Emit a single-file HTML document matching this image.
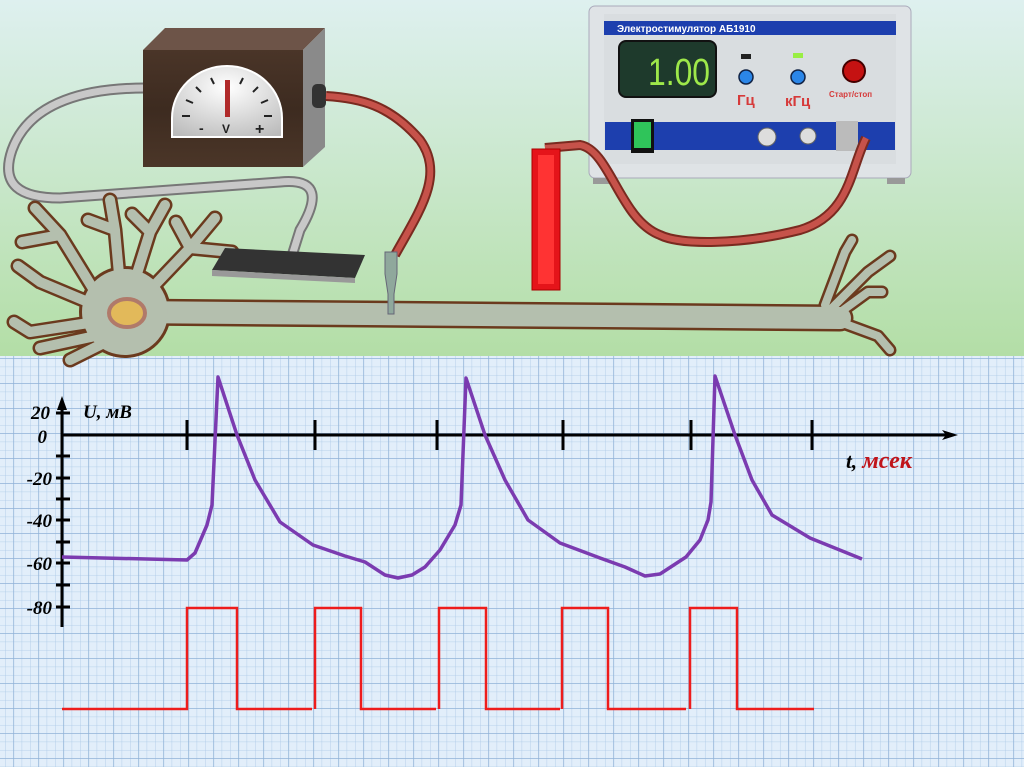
<!DOCTYPE html>
<html><head><meta charset="utf-8"><style>
html,body{margin:0;padding:0;width:1024px;height:767px;overflow:hidden}
svg{display:block}
.serif{font-family:"Liberation Serif",serif}
.sans{font-family:"Liberation Sans",sans-serif}
</style></head><body>
<svg width="1024" height="767" viewBox="0 0 1024 767" xmlns="http://www.w3.org/2000/svg">
<defs>
<linearGradient id="bg" x1="0" y1="0" x2="0" y2="1">
<stop offset="0" stop-color="#def0ef"/><stop offset="1" stop-color="#b3dea6"/>
</linearGradient>
<pattern id="minor" x="5" y="0" width="8.333" height="8.333" patternUnits="userSpaceOnUse">
<path d="M0 0H8.333M0 0V8.333" stroke="#a9c7e6" stroke-width="0.8" fill="none"/>
</pattern>
<pattern id="major" x="13.3" y="8" width="25" height="25" patternUnits="userSpaceOnUse">
<path d="M0 0H25M0 0V25" stroke="#8fb0d6" stroke-width="1.3" fill="none"/>
</pattern>
<linearGradient id="wood" x1="0" y1="0" x2="0" y2="1">
<stop offset="0" stop-color="#4a3528"/><stop offset="0.5" stop-color="#3d2b20"/><stop offset="1" stop-color="#4b3628"/>
</linearGradient>
<radialGradient id="dial" cx="0.5" cy="0.3" r="0.8"><stop offset="0" stop-color="#fff"/><stop offset="1" stop-color="#bbb"/></radialGradient>
</defs>
<rect width="1024" height="356" fill="url(#bg)"/>
<rect y="356" width="1024" height="411" fill="#e2eefa"/>
<rect y="356" width="1024" height="411" fill="url(#minor)"/>
<rect y="356" width="1024" height="411" fill="url(#major)"/>

<!-- grey cable -->
<path d="M145 88 C90 88 30 100 12 150 C0 185 20 198 60 198 L280 182 C320 178 318 200 300 230 L290 262" fill="none" stroke="#777" stroke-width="11"/>
<path d="M145 88 C90 88 30 100 12 150 C0 185 20 198 60 198 L280 182 C320 178 318 200 300 230 L290 262" fill="none" stroke="#c8c8c8" stroke-width="7"/>

<!-- neuron -->
<g fill="none" stroke-linecap="round" stroke-linejoin="round">
<g stroke="#6b3a1e">
<path d="M120 312 L840 318" stroke-width="27"/>
<path d="M100 300L60 235L35 208M60 235L22 242M95 305L40 282L18 266M95 322L30 332L14 322M100 335L40 348M110 340L70 360M120 285L115 230L110 200M115 230L88 220M135 280L150 232L165 205M150 232L132 214M150 290L190 248L215 218M190 248L232 252M190 248L176 222" stroke-width="15"/>
<path d="M825 315L868 272L890 256M835 316L868 292L882 292M840 322L878 336L890 350M825 305L845 252L852 240" stroke-width="13"/>
<circle cx="125" cy="312" r="46" fill="#6b3a1e" stroke="none"/>
</g>
<g stroke="#b4bfae">
<path d="M120 312 L840 318" stroke-width="22"/>
<path d="M100 300L60 235L35 208M60 235L22 242M95 305L40 282L18 266M95 322L30 332L14 322M100 335L40 348M110 340L70 360M120 285L115 230L110 200M115 230L88 220M135 280L150 232L165 205M150 232L132 214M150 290L190 248L215 218M190 248L232 252M190 248L176 222" stroke-width="10"/>
<path d="M825 315L868 272L890 256M835 316L868 292L882 292M840 322L878 336L890 350M825 305L845 252L852 240" stroke-width="8"/>
<circle cx="125" cy="312" r="43" fill="#b4bfae" stroke="none"/>
</g>
</g>
<ellipse cx="127" cy="313" rx="18" ry="14" fill="#e2b95a" stroke="#b07a6a" stroke-width="4"/>

<!-- plate -->
<path d="M225 248 L365 255 L355 278 L212 270 Z" fill="#333"/>
<path d="M212 270 L355 278 L355 283 L212 276 Z" fill="#999"/>

<!-- voltmeter -->
<path d="M143 50 L165 28 L325 28 L303 50 Z" fill="#6d5448"/>
<path d="M303 50 L325 28 L325 147 L303 167 Z" fill="#8a8a8a"/>
<rect x="143" y="50" width="160" height="117" fill="url(#wood)"/>
<path d="M172 137 L172 118 A55 52 0 0 1 282 118 L282 137 Z" fill="url(#dial)" stroke="#fff" stroke-width="2"/>
<g stroke="#222" stroke-width="2">
<path d="M182 116h8M264 116h8M186 100l7 3M268 100l-7 3M196 87l5 5M258 87l-5 5M211 78l3 6M243 78l-3 6"/>
</g>
<rect x="225" y="80" width="5" height="37" fill="#b02a2a"/>
<text class="sans" x="199" y="133" font-size="14" font-weight="bold" fill="#222">-</text>
<text class="sans" x="222" y="133" font-size="12" font-weight="bold" fill="#222">V</text>
<text class="sans" x="255" y="134" font-size="16" font-weight="bold" fill="#222">+</text>
<rect x="312" y="84" width="14" height="24" rx="5" fill="#333"/>
<!-- red cable 1 -->
<path d="M326 96 C360 98 390 105 420 140 C445 175 420 210 395 255" fill="none" stroke="#7a2a20" stroke-width="10"/>
<path d="M326 96 C360 98 390 105 420 140 C445 175 420 210 395 255" fill="none" stroke="#c6524a" stroke-width="6"/>
<path d="M385 252 h12 v22 l-3 20 v20 h-6 v-20 l-3 -20 Z" fill="#8fa89c" stroke="#667" stroke-width="1"/>

<!-- stimulator -->
<rect x="589" y="6" width="322" height="172" rx="6" fill="#dfe3e6" stroke="#aab" stroke-width="1"/>
<rect x="604" y="14" width="292" height="150" fill="#d9dde0"/>
<rect x="604" y="21" width="292" height="14" fill="#1d3fae"/>
<text class="sans" x="617" y="32" font-size="10" font-weight="bold" fill="#fff">Электростимулятор АБ1910</text>
<rect x="619" y="41" width="97" height="56" rx="7" fill="#1e3a2c" stroke="#111" stroke-width="2"/>
<text class="sans" x="648" y="85" font-size="38" fill="#9ee84a" textLength="62" lengthAdjust="spacingAndGlyphs">1.00</text>
<rect x="741" y="54" width="10" height="5" fill="#222"/>
<rect x="793" y="53" width="10" height="5" fill="#9e4"/>
<circle cx="746" cy="77" r="7" fill="#2b86e8" stroke="#124" stroke-width="1.5"/>
<circle cx="798" cy="77" r="7" fill="#2b86e8" stroke="#124" stroke-width="1.5"/>
<text class="sans" x="737" y="105" font-size="15" font-weight="bold" fill="#d63a3a">Гц</text>
<text class="sans" x="785" y="106" font-size="15" font-weight="bold" fill="#d63a3a">кГц</text>
<circle cx="854" cy="71" r="11" fill="#c51212" stroke="#400" stroke-width="2"/>
<text class="sans" x="829" y="97" font-size="8" font-weight="bold" fill="#d63a3a">Старт/стоп</text>
<rect x="605" y="122" width="290" height="28" fill="#1d3fae"/>
<rect x="631" y="119" width="23" height="34" fill="#111"/>
<rect x="634" y="122" width="17" height="26" fill="#2fc45a"/>
<circle cx="767" cy="137" r="9" fill="#ddd" stroke="#666"/>
<circle cx="808" cy="136" r="8" fill="#ddd" stroke="#666"/>
<rect x="836" y="121" width="22" height="30" fill="#bbb"/>
<rect x="593" y="178" width="18" height="6" fill="#999"/>
<rect x="887" y="178" width="18" height="6" fill="#999"/>
<!-- red cable 2 -->
<path d="M866 138 C850 170 850 215 800 230 C740 245 680 245 660 235 C620 220 610 150 580 145 L545 148" fill="none" stroke="#7a2a20" stroke-width="10"/>
<path d="M866 138 C850 170 850 215 800 230 C740 245 680 245 660 235 C620 220 610 150 580 145 L545 148" fill="none" stroke="#c6524a" stroke-width="6"/>
<rect x="532" y="149" width="28" height="141" fill="#e5141a" stroke="#a00" stroke-width="1"/>
<rect x="538" y="155" width="16" height="129" fill="#f33"/>

<!-- axes -->
<g stroke="#000" stroke-width="3" fill="none">
<path d="M62 627 V402"/>
<path d="M62 435 H950"/>
<path d="M187 420V450M315 420V450M437 420V450M563 420V450M691 420V450M812 420V450"/>
<path d="M56 413H70M56 456H70M56 478H70M56 499H70M56 520H70M56 542H70M56 563H70M56 585H70M56 607H70"/>
</g>
<path d="M62 396 L57 410 L67 410 Z"/>
<path d="M958 435 L942 430 L946 435 L942 440 Z"/>
<g class="serif" font-size="19" font-weight="bold" font-style="italic" text-anchor="end">
<text x="50" y="419">20</text>
<text x="47" y="443">0</text>
<text x="52" y="485">-20</text>
<text x="52" y="527">-40</text>
<text x="52" y="570">-60</text>
<text x="52" y="614">-80</text>
</g>
<text class="serif" x="83" y="418" font-size="19" font-weight="bold" font-style="italic">U, мВ</text>
<text class="serif" x="846" y="468" font-size="21" font-weight="bold" font-style="italic">t, <tspan fill="#c0141a" font-size="24">мсек</tspan></text>

<!-- purple -->
<path d="M62 557 L187 560 L195 553 L207 525 L212 505 L218 377 L237 435 L255 480 L280 522 L313 545 L345 556 L365 562 L385 575 L398 578 L412 575 L425 567 L440 550 L455 525 L461 505 L466 378 L485 435 L505 480 L528 520 L560 543 L600 558 L625 567 L645 576 L660 574 L686 557 L700 540 L708 520 L711 502 L715 376 L735 435 L752 480 L772 515 L810 538 L862 559" fill="none" stroke="#7b3bb0" stroke-width="3.5" stroke-linejoin="round"/>
<!-- red pulses -->
<path d="M62 709 H187 V608 H237 V709 H312 M315 709 V608 H361 V709 H436 M439 709 V608 H486 V709 H560 M562 709 V608 H608 V709 H686 M690 709 V608 H737 V709 H814" fill="none" stroke="#ee1c1c" stroke-width="2.5"/>
</svg>
</body></html>
